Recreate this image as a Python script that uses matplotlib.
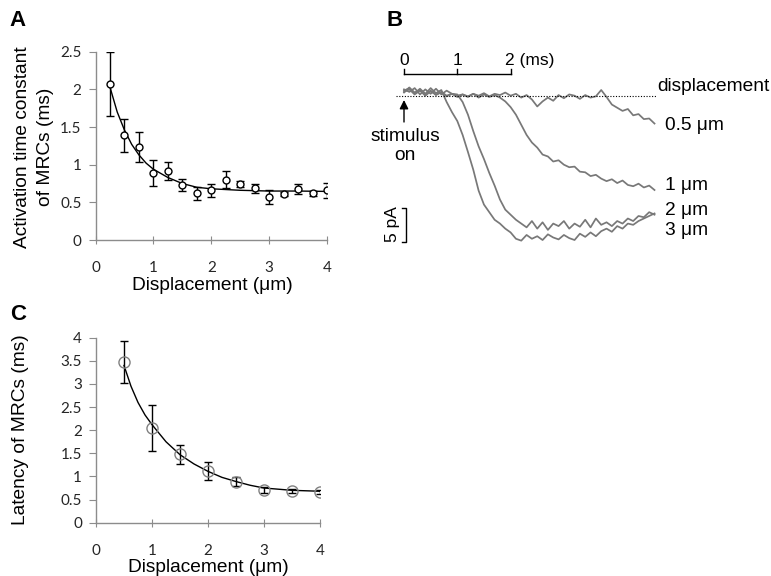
import matplotlib
matplotlib.use("Agg")
import matplotlib.pyplot as plt

plt.rcParams['font.family'] = ['Liberation Sans', 'DejaVu Sans']

# -- panel A: activation time constant vs displacement --
disp_a = [0.25, 0.5, 0.75, 1.0, 1.25, 1.5, 1.75, 2.0, 2.25, 2.5, 2.75, 3.0, 3.25, 3.5, 3.75, 4.0]
tau_a = [2.07, 1.39, 1.23, 0.89, 0.92, 0.73, 0.62, 0.66, 0.80, 0.74, 0.69, 0.57, 0.61, 0.68, 0.62, 0.66]
tau_a_err = [0.42, 0.22, 0.20, 0.17, 0.12, 0.085, 0.09, 0.09, 0.11, 0.04, 0.06, 0.09, 0.03, 0.07, 0.03, 0.10]
fit_a_x = [0.25, 0.375, 0.5, 0.625, 0.75, 0.875, 1.0, 1.25, 1.5, 1.75, 2.0, 2.25, 2.5, 3.0, 3.5, 4.0]
fit_a_y = [2.03, 1.70, 1.46, 1.27, 1.13, 1.02, 0.94, 0.83, 0.75, 0.70, 0.68, 0.67, 0.66, 0.65, 0.65, 0.645]

# -- panel C: latency vs displacement --
disp_c = [0.5, 1.0, 1.5, 2.0, 2.5, 3.0, 3.5, 4.0]
lat_c = [3.47, 2.05, 1.48, 1.12, 0.89, 0.71, 0.68, 0.67]
lat_c_err = [0.45, 0.50, 0.21, 0.20, 0.10, 0.07, 0.04, 0.04]
fit_c_x = [0.5, 0.625, 0.75, 0.875, 1.0, 1.25, 1.5, 1.75, 2.0, 2.25, 2.5, 2.75, 3.0, 3.5, 4.0]
fit_c_y = [3.40, 2.95, 2.60, 2.33, 2.12, 1.75, 1.47, 1.27, 1.11, 0.98, 0.89, 0.81, 0.75, 0.70, 0.68]

# -- panel B: MRC traces (time in ms, current in pA) --
trace_t = [0.0, 0.1, 0.2, 0.3, 0.4, 0.5, 0.6, 0.7, 0.8, 0.9,
           1.0, 1.1, 1.2, 1.3, 1.4, 1.5, 1.6, 1.7, 1.8, 1.9,
           2.0, 2.1, 2.2, 2.3, 2.4, 2.5, 2.6, 2.7, 2.8, 2.9,
           3.0, 3.1, 3.2, 3.3, 3.4, 3.5, 3.6, 3.7, 3.8, 3.9,
           4.0, 4.1, 4.2, 4.3, 4.4, 4.5, 4.6, 4.7]
trace_05 = [0.6, 1.0, 0.2, 0.8, 0.0, 0.7, 0.2, 0.5, -0.1, 0.3,
            0.0, 0.2, -0.2, 0.3, 0.0, 0.4, -0.1, 0.3, 0.1, 0.5,
            0.0, 0.3, -0.3, 0.1, -0.6, -1.7, -0.9, -0.3, -0.8, 0.1,
            -0.4, 0.2, 0.0, -0.5, 0.1, -0.3, -0.1, 0.9, -0.2, -1.4,
            -1.9, -2.4, -2.1, -3.1, -2.9, -3.7, -3.6, -4.4]
trace_1 = [0.8, 1.2, 0.5, 0.9, 0.2, 0.8, 0.1, 0.6, 0.0, 0.3,
           -0.2, 0.2, -0.1, 0.3, -0.3, 0.2, -0.2, 0.1, -0.3, -0.9,
           -1.8, -3.0, -4.6, -6.2, -7.4, -8.2, -9.3, -9.6, -10.4, -10.2,
           -10.9, -11.3, -11.2, -12.0, -12.1, -12.7, -12.5, -13.1, -13.5, -13.2,
           -13.8, -13.4, -14.1, -14.3, -13.9, -14.5, -14.2, -14.9]
trace_2 = [1.0, 0.6, 1.2, 0.2, 1.0, 0.3, 1.1, 0.2, 0.8, 0.3,
           0.2, -1.0, -3.0, -5.6, -8.0, -10.0, -12.2, -14.2, -16.4, -18.0,
           -18.8, -19.6, -20.2, -20.8, -19.8, -21.0, -20.0, -21.2, -20.2, -20.6,
           -19.8, -21.0, -20.2, -20.7, -19.6, -20.8, -19.4, -20.4, -20.0, -20.6,
           -19.8, -20.2, -19.4, -19.8, -19.0, -19.2, -18.4, -18.8]
trace_3 = [0.5, 1.3, 0.4, 1.1, 0.3, 1.2, 0.4, 0.9, -1.0, -2.6,
           -4.0, -6.2, -8.9, -11.7, -15.0, -17.2, -18.4, -19.6, -20.2, -21.0,
           -21.6, -22.6, -22.9, -22.0, -22.6, -22.2, -22.8, -21.9, -22.4, -22.7,
           -22.0, -22.5, -22.8, -21.8, -22.3, -21.6, -22.2, -21.4, -21.0, -21.5,
           -20.6, -21.0, -20.2, -20.4, -19.8, -19.4, -19.0, -18.6]
trace_labels = ['0.5 \u03bcm', '1 \u03bcm', '2 \u03bcm', '3 \u03bcm']

W, H = 771, 576
fig = plt.figure(figsize=(W / 100, H / 100), dpi=100)


def px_axes(left, top, right, bottom):
    return fig.add_axes([left / W, 1 - bottom / H, (right - left) / W, (bottom - top) / H])


def style_axes(ax, ymax, yticks):
    for s in ['top', 'right']:
        ax.spines[s].set_visible(False)
    for s in ['left', 'bottom']:
        ax.spines[s].set_color('0.55')
        ax.spines[s].set_linewidth(1.0)
    ax.set_xlim(0, 4)
    ax.set_ylim(0, ymax)
    ax.set_xticks([0, 1, 2, 3, 4])
    ax.set_yticks(yticks)
    ax.set_yticklabels([f'{v:g}' for v in yticks])
    ax.tick_params(axis='x', direction='inout', length=6, color='0.55', labelsize=11, pad=12, labelcolor='0.15')
    ax.tick_params(axis='y', direction='out', length=5, color='0.55', labelsize=11, pad=5, labelcolor='0.15')
    for lab in ax.get_xticklabels() + ax.get_yticklabels():
        lab.set_family('Lato')


# panel A
ax_a = px_axes(95.5, 51.7, 327, 240)
ax_a.plot(fit_a_x, fit_a_y, color='black', lw=1.0, zorder=2)
ax_a.errorbar(disp_a, tau_a, yerr=tau_a_err, fmt='o', ms=5, mfc='white', mec='black', mew=1.0,
              ecolor='black', elinewidth=1.0, capsize=3, capthick=1.0, zorder=3)
style_axes(ax_a, 2.5, [0, 0.5, 1, 1.5, 2, 2.5])
fig.text(34 / W, 1 - 147 / H, 'Activation time constant\nof MRCs (ms)', rotation=90,
         ha='center', va='center', fontsize=13.8, linespacing=1.5, multialignment='center')
fig.text(212 / W, 1 - 285 / H, 'Displacement (\u03bcm)', ha='center', va='center', fontsize=13.8)
fig.text(18 / W, 1 - 21 / H, 'A', ha='center', va='center', fontsize=16, fontweight='bold')

# panel C
ax_c = px_axes(96, 337.7, 320, 522.7)
ax_c.plot(fit_c_x, fit_c_y, color='black', lw=1.0, zorder=2)
ax_c.errorbar(disp_c, lat_c, yerr=lat_c_err, fmt='o', ms=8, mfc='none', mec='0.5', mew=1.0,
              ecolor='black', elinewidth=1.0, capsize=3, capthick=1.0, zorder=3)
style_axes(ax_c, 4, [0, 0.5, 1, 1.5, 2, 2.5, 3, 3.5, 4])
fig.text(21 / W, 1 - 430 / H, 'Latency of MRCs (ms)', rotation=90,
         ha='center', va='center', fontsize=13.8)
fig.text(208 / W, 1 - 567 / H, 'Displacement (\u03bcm)', ha='center', va='center', fontsize=13.8)
fig.text(18 / W, 1 - 314.5 / H, 'C', ha='center', va='center', fontsize=16, fontweight='bold')

# panel B: pixel box chosen so that 1 ms = 53.3 px and 1 pA = 6.33 px
x0, y0, ms_px, pa_px = 404, 95.7, 53.3, 6.33
ax_b = px_axes(380, 30, 771, 260)
ax_b.set_xlim((380 - x0) / ms_px, (771 - x0) / ms_px)
ax_b.set_ylim((y0 - 260) / pa_px, (y0 - 30) / pa_px)
ax_b.axis('off')

for tr in [trace_05, trace_1, trace_2, trace_3]:
    ax_b.plot(trace_t, tr, color='0.47', lw=1.25, solid_joinstyle='round')

# dotted baseline
ax_b.plot([-0.15, 4.74], [0, 0], color='black', lw=0.8, linestyle=(0, (1, 1.5)))
ax_b.text(4.76, 1.42, 'displacement', ha='left', va='center', fontsize=13.8)

# trace labels at the right end
label_y = [-4.7, -14.2, -18.1, -21.3]
for lab, yy in zip(trace_labels, label_y):
    ax_b.text(4.9, yy, lab, ha='left', va='center', fontsize=13.8)

# time scale bar
bar_y = 3.38
ax_b.plot([0, 2], [bar_y, bar_y], color='black', lw=1.0)
for tk in [0, 1, 2]:
    ax_b.plot([tk, tk], [bar_y, bar_y + 0.8], color='black', lw=1.0)
for tk, lab in [(0, '0'), (1, '1')]:
    ax_b.text(tk, 5.5, lab, ha='center', va='center', fontsize=12.5)
ax_b.text(1.9, 5.5, '2 (ms)', ha='left', va='center', fontsize=12.5)

# current scale bar (5 pA bracket)
ax_b.plot([-0.035, 0.0375, 0.0375, -0.035], [-17.7, -17.7, -23.1, -23.1], color='black', lw=1.0)
ax_b.text(-0.21, -20.3, '5 pA', rotation=90, ha='center', va='center', fontsize=12.5)

# stimulus-on arrow
ax_b.annotate('', xy=(0.0, (y0 - 100) / pa_px), xytext=(0.0, (y0 - 122) / pa_px),
              arrowprops=dict(arrowstyle='-|>', color='black', lw=1.0, mutation_scale=13,
                              shrinkA=0, shrinkB=0))
ax_b.text(0.02, (y0 - 146) / pa_px, 'stimulus\non', ha='center', va='center', fontsize=13.8,
          linespacing=1.1)
fig.text(395 / W, 1 - 21 / H, 'B', ha='center', va='center', fontsize=16, fontweight='bold')

fig.savefig('out.png', dpi=100)
